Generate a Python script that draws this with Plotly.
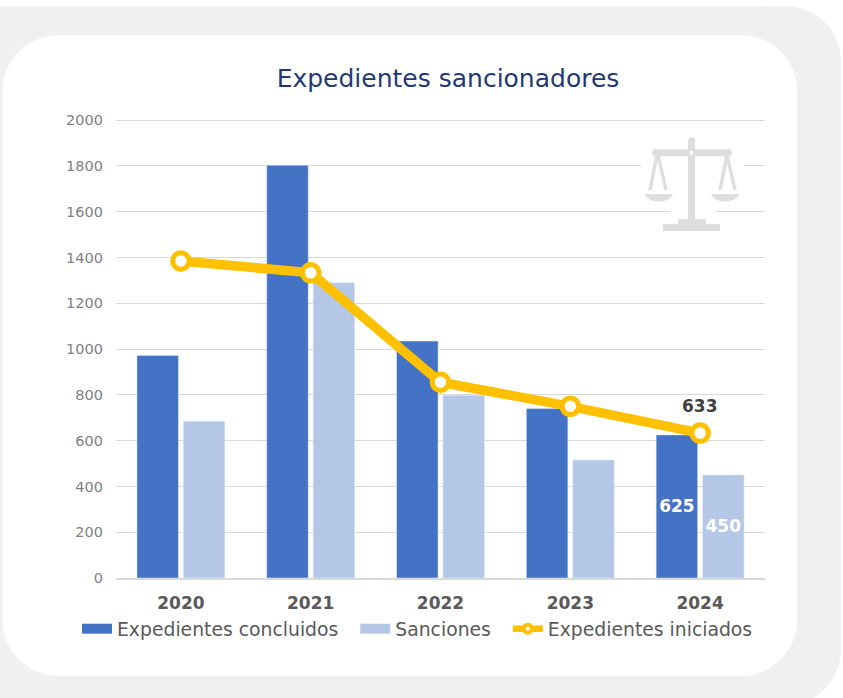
import plotly.graph_objects as go

W, H = 843, 698
# the y range runs slightly past 2000 so that the top gridline is kept by plotly
Y_MAX = 2005
L, R, T, B = 116, 765, 120 - (Y_MAX - 2000) * 458 / 2000, 578

years = ["2020", "2021", "2022", "2023", "2024"]
concluidos = [972, 1803, 1035, 740, 625]
sanciones = [685, 1290, 798, 515, 450]
iniciados = [1385, 1333, 855, 750, 633]
concluidos_labels = ["", "", "", "", "625"]
sanciones_labels = ["", "", "", "", "450"]
y_ticks = list(range(0, 2001, 200))

FONT = "DejaVu Sans"
BLUE, LIGHT, GOLD = "#4472C4", "#B4C7E7", "#FFC000"
GRID = "#D9D9D9"
ICON = "#DEDEDE"
PAD = "\u00a0\u00a0"


def py(y):
    return 1 - y / H


def to_paper(x):
    return (x - L) / (R - L)


def to_paper_y(y):
    return (B - y) / (B - T)


def pt(x, y):
    return f"{to_paper(x):.5f},{to_paper_y(y):.5f}"


def rrect(x0, y0, x1, y1, tl, tr, br, bl):
    k = 0.45
    p = f"M{pt(x0 + tl, y0)} L{pt(x1 - tr, y0)} "
    p += f"C{pt(x1 - tr * k, y0)} {pt(x1, y0 + tr * k)} {pt(x1, y0 + tr)} "
    p += f"L{pt(x1, y1 - br)} "
    p += f"C{pt(x1, y1 - br * k)} {pt(x1 - br * k, y1)} {pt(x1 - br, y1)} "
    p += f"L{pt(x0 + bl, y1)} "
    p += f"C{pt(x0 + bl * k, y1)} {pt(x0, y1 - bl * k)} {pt(x0, y1 - bl)} "
    p += f"L{pt(x0, y0 + tl)} "
    p += f"C{pt(x0, y0 + tl * k)} {pt(x0 + tl * k, y0)} {pt(x0 + tl, y0)} Z"
    return p


def shape(path, fill, layer="above"):
    return dict(type="path", xref="paper", yref="paper", path=path, fillcolor=fill,
                line=dict(width=0), layer=layer)


def poly(points, fill, layer="above"):
    d = "M" + " L".join(pt(x, y) for x, y in points) + " Z"
    return shape(d, fill, layer)


def seg(x0, y0, x1, y1, w=3.5, color=ICON):
    return dict(type="line", xref="paper", yref="paper",
                x0=to_paper(x0), y0=to_paper_y(y0), x1=to_paper(x1), y1=to_paper_y(y1),
                line=dict(color=color, width=w), layer="above")


shapes = [
    shape(rrect(0, 6, 841, 705, 0, 55, 55, 0), "#F0F0F0", "below"),
    shape(rrect(2.5, 35, 797, 676, 56, 56, 56, 56), "#FFFFFF", "below"),
    # scale icon: white halo that interrupts the gridlines
    poly([(641, 160), (744, 160), (744, 172), (641, 172)], "#FFFFFF"),
    poly([(670, 206), (716, 206), (716, 218), (670, 218)], "#FFFFFF"),
    # column, beam, base
    shape(rrect(688, 137, 695, 224, 3, 3, 0, 0), ICON),
    shape(rrect(652, 149, 732, 156, 3, 3, 3, 3), ICON),
    shape(rrect(689.5, 150.5, 693.5, 154.5, 2, 2, 2, 2), "#FFFFFF"),
    poly([(678, 219), (706, 219), (706, 224), (678, 224)], ICON),
    poly([(663, 224), (720, 224), (720, 231), (663, 231)], ICON),
    # hanging arms
    seg(657, 155, 650, 190), seg(658, 155, 666, 190),
    seg(727, 155, 720, 190), seg(727, 155, 735, 190),
    # pans
    shape(f"M{pt(645, 194)} L{pt(673, 194)} C{pt(670, 204)} {pt(648, 204)} {pt(645, 194)} Z", ICON),
    shape(f"M{pt(711, 194)} L{pt(739, 194)} C{pt(736, 204)} {pt(714, 204)} {pt(711, 194)} Z", ICON),
]

fig = go.Figure()
fig.add_bar(x=years, y=concluidos, name="Expedientes concluidos", marker_color=BLUE,
            text=concluidos_labels, textposition="inside", insidetextanchor="middle",
            textangle=0, constraintext="none", showlegend=False,
            textfont=dict(family=FONT, size=17, color="white", weight="bold"),
            cliponaxis=False)
fig.add_bar(x=years, y=sanciones, name="Sanciones", marker_color=LIGHT,
            text=sanciones_labels, textposition="inside", insidetextanchor="middle",
            textangle=0, constraintext="none", showlegend=False,
            textfont=dict(family=FONT, size=17, color="white", weight="bold"),
            cliponaxis=False)
fig.add_scatter(x=years, y=iniciados, name="Expedientes iniciados", mode="lines+markers",
                line=dict(color=GOLD, width=9.5), showlegend=False,
                marker=dict(size=16.5, color="white", line=dict(color=GOLD, width=5)),
                cliponaxis=False)
# Legend keys as in the reference: wide flat bars and a smaller line key (no data of their own)
fig.add_scatter(x=[None], y=[None], name="Expedientes concluidos" + PAD, mode="lines",
                line=dict(color=BLUE, width=10))
fig.add_scatter(x=[None], y=[None], name="Sanciones" + PAD, mode="lines",
                line=dict(color=LIGHT, width=10))
fig.add_scatter(x=[None], y=[None], name="Expedientes iniciados", mode="lines+markers",
                line=dict(color=GOLD, width=6.5),
                marker=dict(size=8, color="white", line=dict(color=GOLD, width=4)))

# on a category axis an annotation's x is the category's index
fig.add_annotation(x=len(years) - 1, y=iniciados[-1], text=str(iniciados[-1]), showarrow=False,
                   yshift=27, yanchor="middle",
                   font=dict(family=FONT, size=17, color="#404040", weight="bold"))

fig.update_layout(
    width=W, height=H, autosize=False,
    margin=dict(l=L, r=W - R, t=T, b=H - B),
    paper_bgcolor="white", plot_bgcolor="rgba(0,0,0,0)",
    barmode="group", bargap=0.285, bargroupgap=0.105,
    font=dict(family=FONT),
    shapes=shapes,
    title=dict(text="Expedientes sancionadores", x=448 / W, xanchor="center",
               y=py(78), yanchor="middle",
               font=dict(family=FONT, size=25, color="#1F3A75")),
    xaxis=dict(type="category", categoryorder="array", categoryarray=years,
               range=[-0.5, len(years) - 0.5], showgrid=False, showline=True,
               linecolor=GRID, linewidth=1.5, ticks="", ticklabelstandoff=9,
               tickfont=dict(family=FONT, size=17, color="#595959", weight="bold")),
    yaxis=dict(range=[0, Y_MAX], tickvals=y_ticks, showgrid=True, gridcolor=GRID, gridwidth=1.3,
               zeroline=False, showline=False, ticks="", ticklabelstandoff=12,
               tickfont=dict(family=FONT, size=14.5, color="#7F7F7F")),
    legend=dict(orientation="h", x=to_paper(77), xanchor="left", y=to_paper_y(629), yanchor="middle",
                font=dict(family=FONT, size=18.8, color="#595959"),
                bgcolor="rgba(0,0,0,0)", tracegroupgap=0),
)

fig.write_html("out.html", config=dict(displayModeBar=False),
               post_script="document.body.style.margin='0';")
